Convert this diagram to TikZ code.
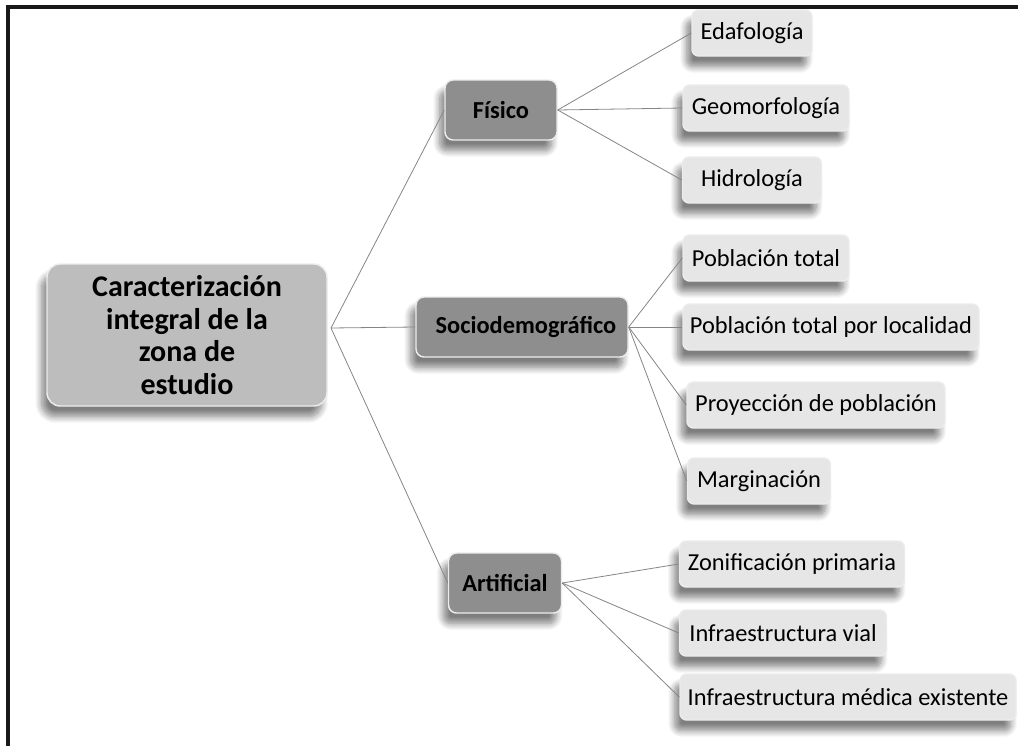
\documentclass[tikz,border=0pt]{standalone}
\usepackage{fontspec}
\setmainfont{Carlito}
\usetikzlibrary{shadows.blur}
\definecolor{rootfill}{HTML}{BDBDBD}
\definecolor{midfill}{HTML}{8E8E8E}
\definecolor{leaffill}{HTML}{E6E6E6}
\definecolor{linkgray}{HTML}{858585}
\tikzset{
  boxbase/.style={rounded corners=6pt, draw=white!85!gray, line width=1.1pt,
    inner sep=0pt,
    blur shadow={shadow xshift=-4pt, shadow yshift=-8pt, shadow blur steps=10,
      shadow blur radius=5pt, shadow opacity=50}},
  rootbox/.style={boxbase, rounded corners=10pt, fill=rootfill,
    font=\bfseries\fontsize{22.5}{24.5}\selectfont, align=center,
    minimum width=280*0.75pt, minimum height=142*0.75pt},
  midbox/.style={boxbase, fill=midfill, font=\bfseries\fontsize{18.3}{22}\selectfont,
    minimum height=60*0.75pt},
  leafbox/.style={boxbase, rounded corners=5pt, fill=leaffill,
    font=\fontsize{18.3}{22}\selectfont, minimum height=46*0.75pt},
  link/.style={draw=linkgray, line width=0.6pt}
}
\begin{document}
\begin{tikzpicture}[x=0.75pt,y=-0.75pt]
\useasboundingbox (0,0) rectangle (1018,746);
% outer frame (top and left edges)
\draw[line width=2.3pt, black!90] (8,746) -- (8,7) -- (1018,7);

% root
\node[rootbox] (root) at (187,335) {Caracterización\\integral de la\\zona de\\estudio};
\coordinate (rh) at (331,328);

% second level
\node[midbox, minimum width=112*0.75pt] (fis) at (501,110) {Físico};
\node[midbox, minimum width=212*0.75pt] (soc) at (522,327) {\hspace*{6pt}Sociodemográfico};
\node[midbox, minimum width=113*0.75pt] (art) at (505,583) {Artificial};

% third level: physical
\node[leafbox, minimum width=120*0.75pt] (eda) at (752,33) {Edafología};
\node[leafbox, minimum width=166*0.75pt] (geo) at (766,108) {Geomorfología};
\node[leafbox, minimum width=139*0.75pt] (hid) at (752,180) {Hidrología};

% third level: sociodemographic
\node[leafbox, minimum width=166*0.75pt] (pt) at (766,258) {Población total};
\node[leafbox, minimum width=296*0.75pt] (ptl) at (831,327) {Población total por localidad};
\node[leafbox, minimum width=258*0.75pt] (pro) at (816,405) {Proyección de población};
\node[leafbox, minimum width=143*0.75pt] (mar) at (759,481) {Marginación};

% third level: artificial
\node[leafbox, minimum width=225*0.75pt] (zon) at (792,564) {Zonificación primaria};
\node[leafbox, minimum width=207*0.75pt] (via) at (783,633) {Infraestructura vial};
\node[leafbox, minimum width=336*0.75pt] (med) at (848,697) {Infraestructura médica existente};

% connectors
\draw[link] (rh) -- (fis.west);
\draw[link] (rh) -- (soc.west);
\draw[link] (rh) -- (art.west);

\draw[link] (fis.east) -- (eda.west);
\draw[link] (fis.east) -- (geo.west);
\draw[link] (fis.east) -- (hid.west);

\draw[link] (soc.east) -- (pt.west);
\draw[link] (soc.east) -- (ptl.west);
\draw[link] (soc.east) -- (pro.west);
\draw[link] (soc.east) -- (mar.west);

\draw[link] (art.east) -- (zon.west);
\draw[link] (art.east) -- (via.west);
\draw[link] (art.east) -- (med.west);
\end{tikzpicture}
\end{document}
